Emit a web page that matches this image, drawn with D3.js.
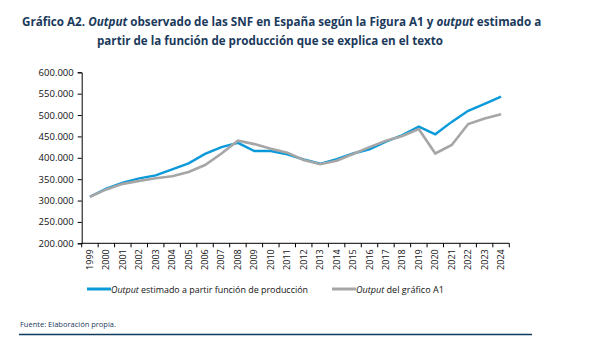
<!DOCTYPE html>
<html lang="es">
<head>
<meta charset="UTF-8">
<script src="https://cdn.jsdelivr.net/npm/d3@7"></script>
<title>Gráfico A2</title>
<style>
body { margin: 0; background: #fff; }
svg text { font-family: "Open Sans", "Noto Sans", sans-serif; }
</style>
</head>
<body>
<svg id="chart" width="590" height="352"></svg>
<script>
// años
let years = d3.range(1999, 2025).map(String)
// Output estimado a partir función de producción
let estimado = [309000, 328000, 342000, 352000, 359000, 373000, 387000, 409000, 425000, 435000,
	416000, 416000, 408000, 396000, 386000, 397000, 410000, 420000, 438000, 453000,
	473000, 455000, 484000, 510000, 526000, 543000]
// Output del gráfico A1
let observado = [309000, 326000, 339000, 346000, 352000, 357000, 367000, 383000, 410000, 440000,
	432000, 421000, 412000, 395000, 385000, 393000, 409000, 425000, 440000, 451000,
	467000, 410000, 430000, 479000, 492000, 502000]
let yTicks = [200000, 250000, 300000, 350000, 400000, 450000, 500000, 550000, 600000]

let svg = d3.select('#chart')
let navy = '#1b3a5c'
let fmt = d => d3.format(',')(d).replace(/,/g, '.')

// ajusta el tamaño de letra para que el texto ocupe el ancho indicado
function fit(t, width) {
	let fs = +t.attr('font-size')
	let w = t.node().getComputedTextLength()
	t.attr('font-size', (fs * width / w).toFixed(2))
	return t
}

// titulo
let t1 = svg.append('text')
	.attr('x', 22).attr('y', 26)
	.attr('font-size', 13).attr('font-weight', 'bold').attr('fill', navy)
	.html('Gráfico A2. <tspan font-style="italic">Output</tspan> observado de las SNF en España según la Figura A1 y <tspan font-style="italic">output</tspan> estimado a')
fit(t1, 520)
let t2 = svg.append('text')
	.attr('x', 97).attr('y', 45)
	.attr('font-size', 13).attr('font-weight', 'bold').attr('fill', navy)
	.text('partir de la función de producción que se explica en el texto')
fit(t2, 346)

let x = d3.scaleBand().domain(years).range([81.7, 509.3])
let y = d3.scaleLinear().domain([200000, 600000]).range([243.3, 72.3])

// eje y
let gy = svg.append('g')
	.attr('transform', 'translate(81.7,0)')
	.call(d3.axisLeft(y).tickValues(yTicks).tickFormat(fmt).tickSize(4).tickPadding(4))
gy.selectAll('text').attr('font-size', 9.5).attr('fill', '#111')
gy.selectAll('line, path').attr('stroke', '#000')

// eje x (ticks entre categorias)
let gx = svg.append('g').attr('transform', 'translate(0,243.3)')
gx.append('line')
	.attr('x1', x.range()[0]).attr('x2', x.range()[1])
	.attr('stroke', '#000')
gx.selectAll('.tk').data(years.concat(['end'])).join('line')
	.attr('class', 'tk')
	.attr('x1', (d, i) => x.range()[0] + i * x.bandwidth())
	.attr('x2', (d, i) => x.range()[0] + i * x.bandwidth())
	.attr('y1', 0).attr('y2', 4)
	.attr('stroke', '#000')
gx.selectAll('.lbl').data(years).join('text')
	.attr('class', 'lbl')
	.attr('transform', d => `translate(${x(d) + x.bandwidth() / 2 + 3},${6}) rotate(-90)`)
	.attr('text-anchor', 'end')
	.attr('font-size', 9).attr('fill', '#111')
	.text(d => d)

let line = d3.line()
	.x((d, i) => x(years[i]) + x.bandwidth() / 2)
	.y(d => y(d))

svg.append('path').datum(estimado)
	.attr('d', line).attr('fill', 'none')
	.attr('stroke', '#0a9ad9').attr('stroke-width', 2.4)
svg.append('path').datum(observado)
	.attr('d', line).attr('fill', 'none')
	.attr('stroke', '#a6a6a6').attr('stroke-width', 2.6)

// leyenda
let legend = [
	{ c: '#0a9ad9', x: 87, t: ' estimado a partir función de producción', w: 197 },
	{ c: '#a6a6a6', x: 332, t: ' del gráfico A1', w: 88 }
]
legend.forEach(l => {
	svg.append('line')
		.attr('x1', l.x).attr('x2', l.x + 24)
		.attr('y1', 289).attr('y2', 289)
		.attr('stroke', l.c).attr('stroke-width', 3)
	let t = svg.append('text')
		.attr('x', l.x + 24).attr('y', 292.5)
		.attr('font-size', 9.5).attr('fill', '#111')
		.html(`<tspan font-style="italic">Output</tspan>${l.t}`)
	fit(t, l.w)
})

// fuente
svg.append('text')
	.attr('x', 20).attr('y', 327)
	.attr('font-size', 7.5).attr('fill', navy)
	.text('Fuente: Elaboración propia.')
svg.append('line')
	.attr('x1', 19).attr('x2', 532)
	.attr('y1', 334.5).attr('y2', 334.5)
	.attr('stroke', '#0e3b5e').attr('stroke-width', 1.3)
</script>
</body>
</html>
